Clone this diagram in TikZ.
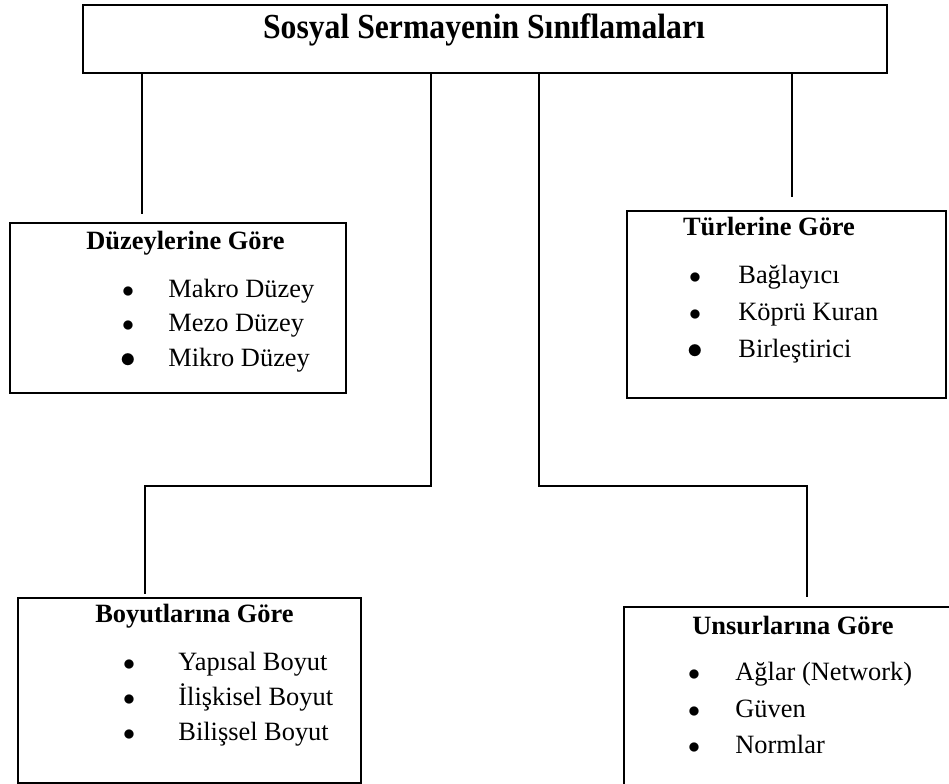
\documentclass[tikz,border=0pt]{standalone}
\usepackage{graphicx}
\usepackage{fontspec}
\setmainfont{Liberation Serif}

\tikzset{
	box/.style={draw, line width=1pt, inner sep=0pt, anchor=north west},
	link/.style={line width=0.65pt},
	head/.style={font=\fontsize{13.2}{16}\selectfont\bfseries, inner sep=0pt, anchor=base},
	item/.style={font=\fontsize{13.2}{16}\selectfont, inner sep=0pt, anchor=base west}
}
\newcommand{\bul}[1]{\llap{$\bullet$\hspace{#1}}}
\newcommand{\bulbig}[1]{\llap{\raisebox{-0.6pt}{\scalebox{1.3}{$\bullet$}}\hspace{#1}}}

\begin{document}
\begin{tikzpicture}[x=0.5pt,y=-0.5pt]

	\useasboundingbox (0,0) rectangle (949,783);
	\clip (0,0) rectangle (949,783);

	%main box
	\node[box, minimum width=402pt, minimum height=34pt] (title) at (82,4) {};
	\node[font=\fontsize{17.6}{20}\selectfont\bfseries, inner sep=0pt, anchor=base] (title-text) at (484,38) {\scalebox{0.9}[1]{Sosyal Sermayenin Sınıflamaları}};

	%the four boxes
	\node[box, minimum width=168pt, minimum height=85pt] (duz) at (9,222) {};
	\node[box, minimum width=159.5pt, minimum height=93.5pt] (tur) at (626,210) {};
	\node[box, minimum width=171.5pt, minimum height=92.5pt] (boy) at (17,597) {};
	\node[box, minimum width=178.5pt, minimum height=107pt] (uns) at (623,606) {};

	%connectors
	\draw[link, shorten >=4pt] ([xshift=30pt]title.south west) -- ([xshift=66.5pt]duz.north west);
	\draw[link, shorten >=6.5pt] ([xshift=355pt]title.south west) -- ([xshift=83pt]tur.north west);
	\draw[link, shorten >=1.5pt] ([xshift=174.5pt]title.south west) -- ++(0,412) -| ([xshift=64pt]boy.north west);
	\draw[link, shorten >=4.5pt] ([xshift=228.5pt]title.south west) -- ++(0,412) -| ([xshift=92pt]uns.north west);

	%Düzeylerine Göre
	\node[head] (duz-head) at (185.5,249) {Düzeylerine Göre};
	\node[item] (duz-1) at (168,297) {\bul{17.2pt}Makro Düzey};
	\node[item] (duz-2) at (168,331) {\bul{17.2pt}Mezo Düzey};
	\node[item] (duz-3) at (168,366) {\bulbig{16.2pt}Mikro Düzey};

	%Türlerine Göre
	\node[head] (tur-head) at (769,235) {Türlerine Göre};
	\node[item] (tur-1) at (738,283) {\bul{18.7pt}Bağlayıcı};
	\node[item] (tur-2) at (738,320) {\bul{18.7pt}Köprü Kuran};
	\node[item] (tur-3) at (738,357) {\bulbig{17.7pt}Birleştirici};

	%Boyutlarına Göre
	\node[head] (boy-head) at (194.5,622) {Boyutlarına Göre};
	\node[item] (boy-1) at (178,670) {\bul{21.7pt}Yapısal Boyut};
	\node[item] (boy-2) at (178,705) {\bul{21.7pt}İlişkisel Boyut};
	\node[item] (boy-3) at (178,740) {\bul{21.7pt}Bilişsel Boyut};

	%Unsurlarına Göre
	\node[head] (uns-head) at (793,634) {Unsurlarına Göre};
	\node[item] (uns-1) at (735,680) {\bul{17.7pt}Ağlar (Network)};
	\node[item] (uns-2) at (735,717) {\bul{17.7pt}Güven};
	\node[item] (uns-3) at (735,753) {\bul{17.7pt}Normlar};

\end{tikzpicture}
\end{document}
